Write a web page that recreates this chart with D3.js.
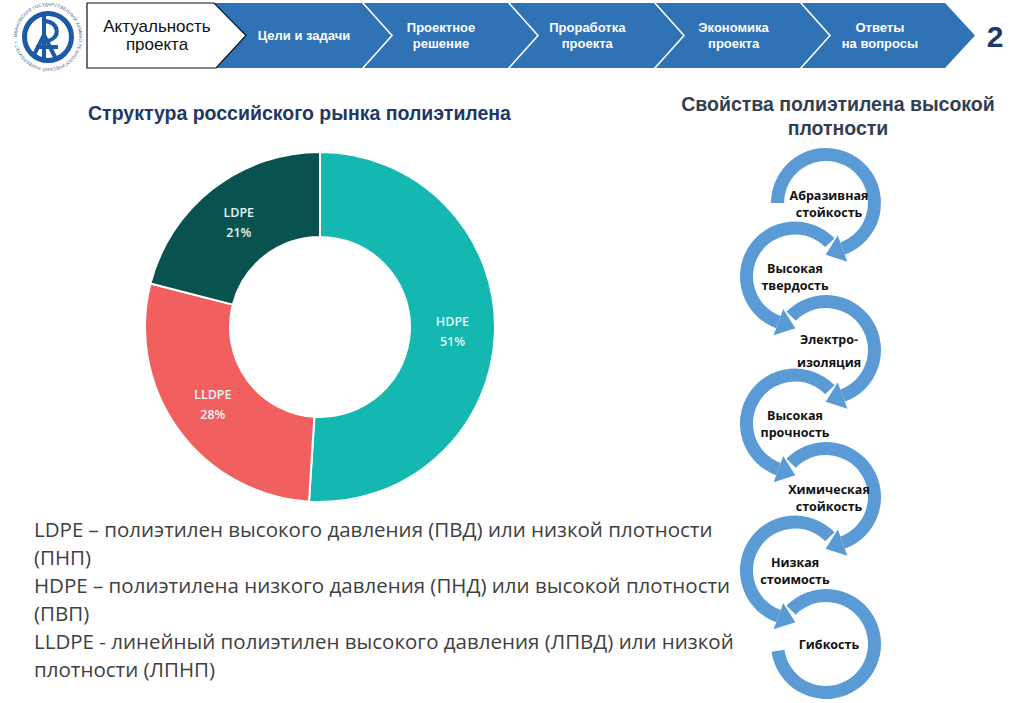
<!DOCTYPE html>
<html>
<head>
<meta charset="utf-8">
<script src="https://cdn.jsdelivr.net/npm/d3@7"></script>
<style>
  body { margin: 0; background: #fff; }
  svg { display: block; }
</style>
</head>
<body>
<svg id="chart" width="1024" height="703"></svg>
<script>
(function(d3) {
    'use strict';

    // --- data ---
    var navLabels = [
        ['Актуальность', 'проекта'],
        ['Цели и задачи'],
        ['Проектное', 'решение'],
        ['Проработка', 'проекта'],
        ['Экономика', 'проекта'],
        ['Ответы', 'на вопросы']
    ];
    var slideNumber = '2';
    var chartTitle = 'Структура российского рынка полиэтилена';
    var categories = ['HDPE', 'LLDPE', 'LDPE'];
    var shares = [51, 28, 21];
    var sliceColors = ['#14b8b0', '#f1605f', '#08534f'];
    var propsTitle = ['Свойства полиэтилена высокой', 'плотности'];
    var properties = [
        ['Абразивная', 'стойкость'],
        ['Высокая', 'твердость'],
        ['Электро-', 'изоляция'],
        ['Высокая', 'прочность'],
        ['Химическая', 'стойкость'],
        ['Низкая', 'стоимость'],
        ['Гибкость']
    ];
    var notes = [
        'LDPE – полиэтилен высокого давления (ПВД) или низкой плотности',
        '(ПНП)',
        'HDPE –  полиэтилена низкого давления (ПНД) или высокой плотности',
        '(ПВП)',
        'LLDPE - линейный полиэтилен высокого давления (ЛПВД) или низкой',
        'плотности (ЛПНП)'
    ];
    var logoRing = 'ИВАНОВСКИЙ ГОСУДАРСТВЕННЫЙ ХИМИКО-ТЕХНОЛОГИЧЕСКИЙ УНИВЕРСИТЕТ •';

    var blue = '#2f72b6';
    var arrowBlue = '#5b9bd5';
    var sans = 'Liberation Sans, Arial, sans-serif';
    var svg = d3.select('#chart');

    // --- logo ---
    var logo = svg.append('g').attr('transform', 'translate(48,37)');
    logo.append('path')
        .attr('id', 'ringPath')
        .attr('d', 'M-31,0a31,31 0 1,1 62,0a31,31 0 1,1 -62,0')
        .attr('fill', 'none');
    logo.append('text')
        .attr('font-family', sans)
        .attr('font-size', 4.6)
        .attr('fill', '#4a6b95')
        .append('textPath')
        .attr('href', '#ringPath')
        .attr('textLength', 190)
        .text(logoRing);
    logo.append('circle').attr('r', 23.5)
        .attr('fill', 'none').attr('stroke', '#1c5aa8').attr('stroke-width', 5);
    logo.append('path')
        .attr('d', 'M-4,-21V21M-4,-16C12,-16 14,4 -4,4M-14,18L-4,-2L8,22M-12,10H10')
        .attr('fill', 'none').attr('stroke', '#1c5aa8').attr('stroke-width', 4);

    // --- navigation bar ---
    var navTop = 3, navBot = 68, navMid = 35.5, notch = 30;
    var bounds = [213, 362, 508, 654, 800, 945];
    var nav = svg.append('g');
    nav.append('path')
        .attr('d', 'M200,' + navTop + 'H945L975,' + navMid + 'L945,' + navBot + 'H200Z')
        .attr('fill', blue);
    bounds.slice(1, 5).forEach(function(x) {
        nav.append('path')
            .attr('d', 'M' + x + ',' + (navTop - 1) + 'L' + (x + notch) + ',' + navMid + 'L' + x + ',' + (navBot + 1))
            .attr('fill', 'none').attr('stroke', '#fff').attr('stroke-width', 1.6);
    });
    nav.append('path')
        .attr('d', 'M87,' + navTop + 'H214L246,' + navMid + 'L216,' + navBot + 'H87Z')
        .attr('fill', '#fff').attr('stroke', '#111').attr('stroke-width', 1.2);

    navLabels.forEach(function(lines, i) {
        var cx = i === 0 ? 157 : (i === 1 ? 304 : 441 + (i - 2) * 146.3);
        var t = nav.append('text')
            .attr('text-anchor', 'middle')
            .attr('font-family', sans)
            .attr('font-size', i === 0 ? 17 : 13)
            .attr('font-weight', i === 0 ? 'normal' : 'bold')
            .attr('fill', i === 0 ? '#111' : '#fff');
        var gap = i === 0 ? 18 : 16;
        lines.forEach(function(s, k) {
            t.append('tspan')
                .attr('x', cx)
                .attr('y', navMid + (k - (lines.length - 1) / 2) * gap)
                .attr('dy', '0.35em')
                .text(s);
        });
    });
    svg.append('text')
        .attr('x', 995).attr('y', 36).attr('dy', '0.35em')
        .attr('text-anchor', 'middle')
        .attr('font-family', sans)
        .attr('font-size', 30).attr('font-weight', 'bold')
        .attr('fill', '#1f3864')
        .text(slideNumber);

    // --- titles ---
    svg.append('text')
        .attr('x', 88).attr('y', 113).attr('dy', '0.35em')
        .attr('font-family', sans)
        .attr('font-size', 19.5).attr('font-weight', 'bold')
        .attr('fill', '#1f3864')
        .text(chartTitle);
    var pt = svg.append('text')
        .attr('text-anchor', 'middle')
        .attr('font-family', sans)
        .attr('font-size', 19.5).attr('font-weight', 'bold')
        .attr('fill', '#333f50');
    propsTitle.forEach(function(s, k) {
        pt.append('tspan').attr('x', 838).attr('y', 104 + k * 24).attr('dy', '0.35em').text(s);
    });

    // --- donut ---
    var donut = svg.append('g').attr('transform', 'translate(320,327)');
    var pie = d3.pie().sort(null).value(function(d) { return d; });
    var arc = d3.arc().innerRadius(90).outerRadius(175);
    var slices = pie(shares);
    donut.selectAll('path.slice')
        .data(slices)
        .join('path')
        .attr('class', 'slice')
        .attr('d', arc)
        .attr('fill', function(d, i) { return sliceColors[i]; })
        .attr('stroke', '#fff')
        .attr('stroke-width', 2);
    var lbl = donut.selectAll('text.lbl')
        .data(slices)
        .join('text')
        .attr('class', 'lbl')
        .attr('text-anchor', 'middle')
        .attr('font-family', 'Open Sans, sans-serif')
        .attr('font-size', 12.5)
        .attr('font-weight', 600)
        .attr('fill', '#e8f6f5')
        .attr('transform', function(d) { return 'translate(' + arc.centroid(d) + ')'; });
    lbl.append('tspan').attr('x', 0).attr('y', -10).attr('dy', '0.35em')
        .text(function(d, i) { return categories[i]; });
    lbl.append('tspan').attr('x', 0).attr('y', 10).attr('dy', '0.35em')
        .text(function(d) { return d.value + '%'; });

    // --- notes ---
    var nt = svg.append('g')
        .attr('font-family', 'Open Sans, sans-serif')
        .attr('font-size', 20.5)
        .attr('fill', '#404040');
    notes.forEach(function(s, i) {
        nt.append('text').attr('x', 34).attr('y', 537 + i * 28).text(s);
    });

    // --- circular arrows ---
    var R = 48.5, W = 6.5, HW = 14, HL = 18;
    var cxR = 826, cxL = 795, cy0 = 203, dy = 73.5;
    var rad = Math.PI / 180;
    var band = d3.arc();
    var flow = svg.append('g');
    properties.forEach(function(lines, i) {
        var right = i % 2 === 0;
        var last = i === properties.length - 1;
        var cx = right ? cxR : cxL, cy = cy0 + i * dy;
        var a0, a1;
        if (i === 0) { a0 = -90; a1 = 160; }
        else if (last) { a0 = -46; a1 = 262; }
        else if (right) { a0 = -46; a1 = 160; }
        else { a0 = 46; a1 = -160; }
        flow.append('path')
            .attr('transform', 'translate(' + cx + ',' + cy + ')')
            .attr('d', band({ innerRadius: R - W, outerRadius: R + W, startAngle: a0 * rad, endAngle: a1 * rad }))
            .attr('fill', arrowBlue);
        if (!last) {
            var th = a1 * rad, dir = right ? 1 : -1;
            var p = function(r) { return [cx + r * Math.sin(th), cy - r * Math.cos(th)]; };
            var b1 = p(R - HW), b2 = p(R + HW), m = p(R);
            var tip = [m[0] + dir * HL * Math.cos(th), m[1] + dir * HL * Math.sin(th)];
            flow.append('path')
                .attr('d', 'M' + b1 + 'L' + tip + 'L' + b2 + 'Z')
                .attr('fill', arrowBlue);
        }
        var gap = i === 2 ? 23 : 17;
        var t = flow.append('text')
            .attr('text-anchor', 'middle')
            .attr('font-family', 'Open Sans, sans-serif')
            .attr('font-size', 12.5)
            .attr('font-weight', 'bold')
            .attr('fill', '#111');
        lines.forEach(function(s, k) {
            t.append('tspan')
                .attr('x', right ? cx + 3 : cx)
                .attr('y', cy + 1 + (k - (lines.length - 1) / 2) * gap)
                .attr('dy', '0.35em')
                .text(s);
        });
    });
}(d3));
</script>
</body>
</html>
